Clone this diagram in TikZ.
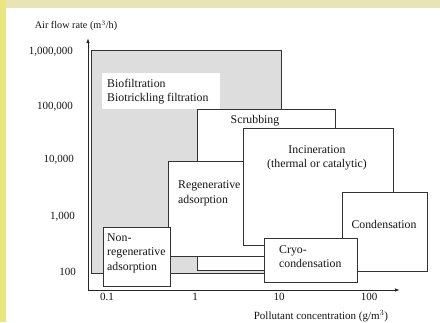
\documentclass[tikz,border=0pt]{standalone}
\usepackage{fontspec}
\setmainfont{Liberation Serif}
\usepackage{tikz}
\usepackage{xcolor}
\usetikzlibrary{calc,arrows.meta}

\definecolor{sideyellow}{RGB}{235,229,125}
\definecolor{topbeige}{RGB}{233,228,182}
\definecolor{biogray}{RGB}{221,221,221}

\begin{document}
\begin{tikzpicture}[x=1pt, y=-1pt,
        techbox/.style={rectangle, draw=black!80, line width=0.9pt, fill=white, inner sep=0pt, anchor=north west},
        techtext/.style={inner sep=0pt, text=black!92, font=\fontsize{11.8}{14.5}\selectfont},
        ticklab/.style={inner sep=0pt, text=black!92, font=\fontsize{11}{12}\selectfont},
        axisline/.style={line width=0.9pt, draw=black!85}
        ]
            \useasboundingbox (0,0) rectangle (440,322);
            \fill[sideyellow] (0,0) rectangle (440,322);
            \fill[topbeige] (6,0) rectangle (440,8);
            \fill[white] (6,8) rectangle (440,322);

            % axes
            \coordinate (O) at (88,290);
            \coordinate (Ytop) at (88,38);
            \coordinate (Xend) at (400,290);
            \draw[axisline, {Latex[length=5pt,width=3.5pt]}-{Latex[length=5pt,width=3.5pt]}] (Ytop) -- (O) -- (Xend);

            \node[ticklab, font=\fontsize{10.2}{12}\selectfont] (Ytitle) at (76,26) {Air flow rate (m$^{3}$/h)};
            \node[ticklab, anchor=east] (Y6) at (73,52) {1,000,000};
            \node[ticklab, anchor=east] (Y5) at (73,107) {100,000};
            \node[ticklab, anchor=east] (Y4) at (74,160) {10,000};
            \node[ticklab, anchor=east] (Y3) at (75,217) {1,000};
            \node[ticklab, anchor=east] (Y2) at (76,272) {100};

            \node[ticklab] (X1) at (107,297) {0.1};
            \node[ticklab] (X2) at (195,297) {1};
            \node[ticklab] (X3) at (279,297) {10};
            \node[ticklab] (X4) at (369,297) {100};
            \node[ticklab] (Xtitle) at (321,316) {Pollutant concentration (g/m$^{3}$)};

            % technology ranges
            \node[techbox, fill=biogray, minimum width=190pt, minimum height=223pt] (BIO) at (91,50) {};
            \node[fill=white, inner sep=0pt, anchor=north west, minimum width=118pt, minimum height=36pt] (BIOLAB) at (102,73) {};
            \node[techbox, minimum width=138pt, minimum height=161pt] (SCRUB) at (197,109) {};
            \node[techbox, minimum width=132pt, minimum height=95pt] (REGEN) at (168,161) {};
            \node[techbox, minimum width=150pt, minimum height=117pt] (INCIN) at (243,128) {};
            \node[techbox, minimum width=85pt, minimum height=79pt] (COND) at (342,192) {};
            \node[techbox, minimum width=93pt, minimum height=44pt] (CRYO) at (264,238) {};
            \node[techbox, minimum width=67pt, minimum height=59pt] (NONREG) at (103,227) {};

            \node[techtext, anchor=west, align=left] (biotxt) at (107,91.5) {Biofiltration\\Biotrickling filtration};
            \node[techtext] (scrubtxt) at (255,121) {Scrubbing};
            \node[techtext, align=center] (incintxt) at (317,158) {Incineration\\(thermal or catalytic)};
            \node[techtext, anchor=west, align=left] (regentxt) at (178,193.5) {Regenerative\\adsorption};
            \node[techtext] (condtxt) at (384,224) {Condensation};
            \node[techtext, anchor=west, align=left] (cryotxt) at (279,256.5) {Cryo-\\condensation};
            \node[techtext, anchor=west, align=left] (nonregtxt) at (107,253) {Non-\\regenerative\\adsorption};

        \end{tikzpicture}
\end{document}
